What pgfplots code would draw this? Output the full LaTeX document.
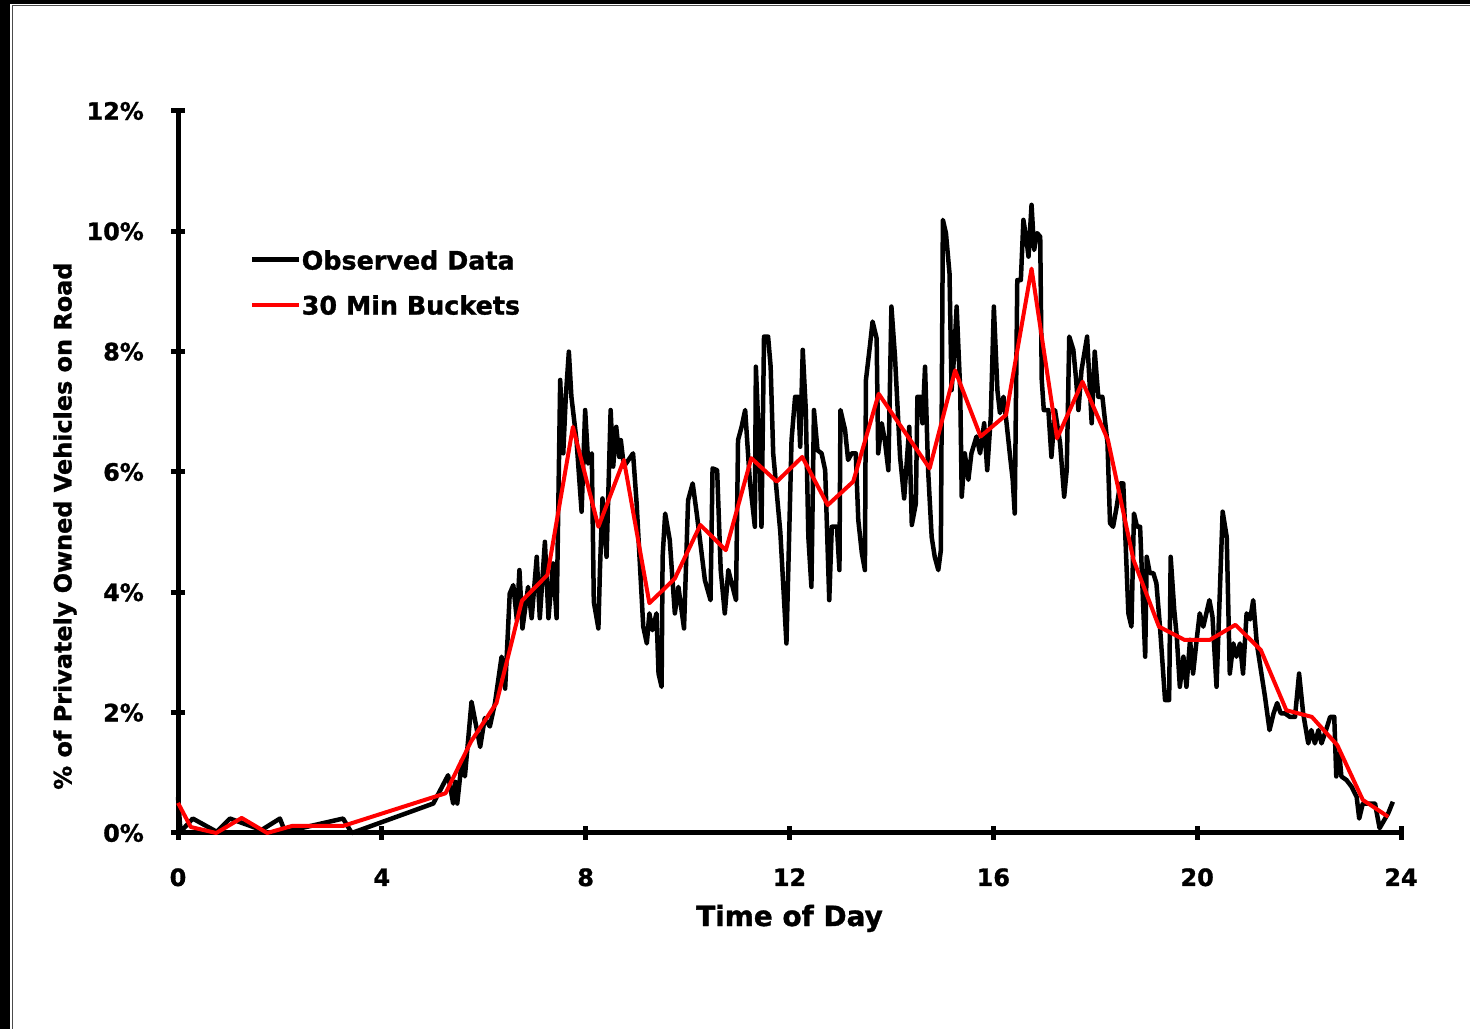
\documentclass[border=0pt]{standalone}
\usepackage{fontspec}
\setmainfont{DejaVu Sans}[BoldFeatures={FakeBold=1.2}]
\usepackage{pgfplots}
\pgfplotsset{compat=1.18}
\begin{document}
\begin{tikzpicture}
\path[use as bounding box, fill=white] (0bp,0bp) rectangle (1470bp,1029bp);
\fill[black] (0bp,1025bp) rectangle (1470bp,1029bp);
\fill[black] (0bp,0bp) rectangle (10bp,1029bp);
\draw[gray!60!black, line width=1bp] (12.5bp,0bp) -- (12.5bp,1023.5bp) -- (1470bp,1023.5bp);
\begin{axis}[
  at={(178bp,196bp)}, anchor=south west,
  scale only axis, width=1223bp, height=722bp,
  xmin=0, xmax=24, ymin=0, ymax=12,
  axis x line*=bottom, axis y line*=left,
  axis line style={-, line width=5bp, black},
  xtick={0,4,...,24}, ytick={0,2,...,12},
  tick align=center, major tick length=14bp,
  every tick/.style={black, line width=5bp},
  tick label style={font=\bfseries\fontsize{24}{28}\selectfont},
  /pgf/number format/assume math mode=true,
  yticklabel={\pgfmathprintnumber{\tick}\%},
  xticklabel style={anchor=base, inner sep=0pt, yshift=-46bp},
  yticklabel style={anchor=east, inner sep=0pt, xshift=-27bp},
  xlabel={Time of Day},
  xlabel style={at={(axis description cs:0.5,0)}, anchor=base, yshift=-93bp, font=\bfseries\fontsize{28}{32}\selectfont},
  ylabel={\% of Privately Owned Vehicles on Road},
  ylabel style={at={(axis description cs:-0.0924,0.425)}, anchor=center, font=\bfseries\fontsize{24}{28}\selectfont},
  clip=false,
  legend style={draw=none, fill=none, at={(axis description cs:0.0589,0.807)}, anchor=north west,
    font=\bfseries\fontsize{25.5}{30}\selectfont, inner sep=0pt, row sep=20bp, column sep=0pt,
    nodes={inner sep=0pt, text height=19bp, text depth=6bp}},
  legend cell align=left,
  legend image code/.code={\draw[#1] (0bp,3.5bp) -- (47bp,3.5bp);},
]
\addplot[black, line width=4.5bp, line join=round] coordinates {
(0.00,0.60) (0.05,0.02) (0.29,0.24) (0.76,0.02) (1.02,0.24) (1.64,0.05) (2.00,0.24) (2.10,0.02)
(3.24,0.24) (3.41,0.00) (5.01,0.49) (5.30,0.96) (5.40,0.49) (5.44,0.85) (5.48,0.49) (5.57,1.21)
(5.63,0.94) (5.76,2.18) (5.93,1.43) (6.02,1.91) (6.12,1.77) (6.22,2.16) (6.35,2.93) (6.42,2.40)
(6.51,3.98) (6.58,4.12) (6.65,3.54) (6.70,4.37) (6.76,3.40) (6.87,4.09) (6.94,3.57) (7.04,4.59)
(7.10,3.57) (7.20,4.84) (7.27,3.57) (7.36,4.48) (7.43,3.57) (7.50,7.53) (7.56,6.31) (7.61,7.25)
(7.67,8.00) (7.72,7.25) (7.82,6.53) (7.92,5.34) (7.99,7.03) (8.05,6.14) (8.12,6.31) (8.16,3.84)
(8.25,3.40) (8.28,4.37) (8.33,5.56) (8.41,4.59) (8.49,7.03) (8.54,6.09) (8.60,6.75) (8.66,6.25)
(8.69,6.53) (8.75,6.09) (8.93,6.31) (9.00,5.48) (9.13,3.43) (9.20,3.15) (9.25,3.65) (9.31,3.37)
(9.39,3.65) (9.43,2.65) (9.49,2.43) (9.51,4.59) (9.56,5.31) (9.65,4.87) (9.75,3.65) (9.82,4.09)
(9.93,3.40) (10.01,5.53) (10.10,5.81) (10.18,5.31) (10.34,4.20) (10.45,3.87) (10.49,6.06) (10.58,6.03)
(10.65,4.37) (10.73,3.65) (10.80,4.37) (10.95,3.87) (10.99,6.53) (11.06,6.75) (11.13,7.03) (11.22,5.87)
(11.32,5.09) (11.34,7.75) (11.41,6.31) (11.45,5.09) (11.50,8.25) (11.58,8.25) (11.63,7.75) (11.68,6.31)
(11.82,5.00) (11.94,3.15) (12.04,6.53) (12.11,7.25) (12.17,7.25) (12.21,6.42) (12.26,8.03) (12.32,7.03)
(12.37,4.92) (12.43,4.09) (12.48,7.03) (12.55,6.36) (12.63,6.31) (12.70,6.03) (12.78,3.87) (12.83,5.09)
(12.93,5.09) (12.98,4.37) (13.00,7.03) (13.09,6.70) (13.15,6.20) (13.22,6.31) (13.30,6.31) (13.35,5.20)
(13.42,4.65) (13.48,4.37) (13.50,7.53) (13.58,8.11) (13.63,8.50) (13.71,8.22) (13.74,6.31) (13.81,6.81)
(13.87,6.53) (13.94,6.03) (14.00,8.75) (14.07,7.92) (14.17,6.25) (14.25,5.56) (14.35,6.75) (14.40,5.12)
(14.48,5.48) (14.51,7.25) (14.57,7.25) (14.61,6.81) (14.66,7.75) (14.72,6.03) (14.79,4.92) (14.85,4.59)
(14.92,4.37) (14.97,4.70) (15.01,10.19) (15.07,9.97) (15.14,9.30) (15.18,7.36) (15.23,7.92) (15.28,8.75)
(15.35,7.36) (15.38,5.59) (15.44,6.31) (15.51,5.87) (15.57,6.31) (15.67,6.59) (15.74,6.31) (15.82,6.81)
(15.88,6.03) (15.95,6.92) (16.01,8.75) (16.08,7.36) (16.13,6.98) (16.20,7.25) (16.26,6.81) (16.33,6.25)
(16.38,5.87) (16.42,5.31) (16.47,9.19) (16.54,9.19) (16.59,10.19) (16.65,9.86) (16.69,9.58) (16.75,10.44)
(16.80,9.69) (16.86,9.97) (16.92,9.91) (16.95,7.53) (16.99,7.03) (17.08,7.03) (17.14,6.25) (17.21,7.03)
(17.25,6.81) (17.31,6.48) (17.39,5.59) (17.44,6.03) (17.49,8.25) (17.57,8.03) (17.62,7.58) (17.67,7.03)
(17.73,7.69) (17.84,8.25) (17.93,6.81) (17.99,8.00) (18.06,7.25) (18.14,7.25) (18.24,6.48) (18.29,5.15)
(18.35,5.09) (18.42,5.42) (18.49,5.81) (18.55,5.81) (18.65,3.65) (18.71,3.43) (18.76,5.31) (18.82,5.09)
(18.88,5.09) (18.98,2.93) (19.01,4.59) (19.07,4.32) (19.14,4.32) (19.20,4.15) (19.27,3.43) (19.37,2.21)
(19.45,2.21) (19.48,4.59) (19.55,3.71) (19.60,3.26) (19.66,2.43) (19.73,2.93) (19.79,2.43) (19.86,3.21)
(19.92,2.65) (19.99,3.21) (20.05,3.65) (20.12,3.43) (20.24,3.87) (20.30,3.60) (20.38,2.43) (20.50,5.34)
(20.58,4.92) (20.64,2.65) (20.71,3.15) (20.77,2.93) (20.84,3.15) (20.90,2.65) (20.97,3.65) (21.04,3.55)
(21.10,3.87) (21.17,3.15) (21.27,2.60) (21.33,2.27) (21.42,1.71) (21.50,1.99) (21.57,2.16) (21.64,1.99)
(21.72,1.99) (21.82,1.93) (21.92,1.93) (22.00,2.65) (22.08,1.99) (22.18,1.49) (22.24,1.71) (22.31,1.49)
(22.38,1.71) (22.44,1.49) (22.51,1.66) (22.61,1.93) (22.69,1.93) (22.73,0.94) (22.79,1.32) (22.83,0.94)
(22.93,0.88) (23.03,0.77) (23.13,0.60) (23.18,0.24) (23.25,0.49) (23.35,0.49) (23.49,0.49) (23.58,0.08)
(23.75,0.33) (23.84,0.52)
};
\addlegendentry{Observed Data}
\addplot[red, line width=4bp, line join=round] coordinates {
(0.00,0.50) (0.25,0.10) (0.75,0.00) (1.25,0.25) (1.75,0.00) (2.25,0.12) (3.25,0.12)
(5.25,0.66) (5.75,1.52) (6.25,2.16) (6.75,3.86) (7.25,4.29) (7.75,6.75) (8.25,5.09)
(8.75,6.20) (9.25,3.82) (9.75,4.23) (10.25,5.12) (10.75,4.70) (11.25,6.23) (11.75,5.84)
(12.25,6.25) (12.75,5.45) (13.25,5.84) (13.75,7.30) (14.25,6.68) (14.75,6.06) (15.25,7.69)
(15.75,6.59) (16.25,6.95) (16.75,9.38) (17.25,6.56) (17.75,7.50) (18.25,6.53) (18.75,4.54)
(19.25,3.43) (19.75,3.21) (20.25,3.21) (20.75,3.46) (21.25,3.04) (21.75,2.04) (22.25,1.93)
(22.75,1.46) (23.25,0.55) (23.75,0.27)
};
\addlegendentry{30 Min Buckets}
\end{axis}
\end{tikzpicture}
\end{document}
